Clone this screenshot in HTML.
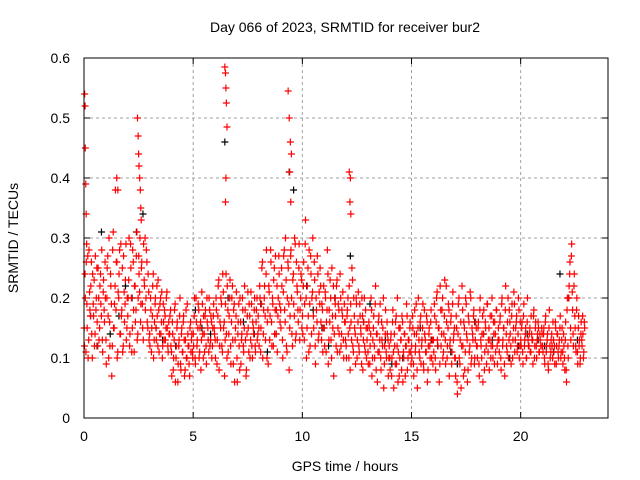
<!DOCTYPE html>
<html><head><meta charset="utf-8"><style>
html,body{margin:0;padding:0;background:#fff;width:640px;height:480px;overflow:hidden}
svg{display:block;font-family:"Liberation Sans",sans-serif}
</style></head><body>
<svg id="chart" width="640" height="480">
<text x="345" y="32" font-size="14" text-anchor="middle">Day 066 of 2023, SRMTID for receiver bur2</text>
<text x="345" y="471" font-size="14" text-anchor="middle">GPS time / hours</text>
<text transform="translate(18,238) rotate(-90)" font-size="14" text-anchor="middle">SRMTID / TECUs</text>
<g id="grid"></g>
<g id="ticks"></g>
<g id="pts"></g>
<rect x="84" y="58" width="524" height="360" fill="none" stroke="#000" stroke-width="1"/>
</svg>
<script>
const xTicks=[0,5,10,15,20];
const yTicks=[0,0.1,0.2,0.3,0.4,0.5,0.6];
const yTickLabels=["0","0.1","0.2","0.3","0.4","0.5","0.6"];
const redByHour=[
[0.12,0.2,0.26,0.15,0.1,0.28,0.18,0.22,0.14,0.24,0.17,0.12,0.27,0.2,0.16,0.25,0.13,0.22,0.19,0.28,0.11,0.23,0.16,0.2],
[0.09,0.25,0.17,0.3,0.12,0.22,0.07,0.28,0.15,0.19,0.38,0.26,0.1,0.21,0.24,0.14,0.29,0.18,0.11,0.27,0.16,0.23,0.13,0.2],
[0.2,0.3,0.14,0.25,0.11,0.28,0.18,0.22,0.16,0.27,0.13,0.2,0.24,0.3,0.19,0.26,0.15,0.29,0.22,0.18,0.28,0.16,0.24,0.13],
[0.12,0.18,0.15,0.22,0.1,0.16,0.2,0.13,0.17,0.23,0.11,0.19,0.14,0.21,0.12,0.16,0.18,0.13,0.2,0.15,0.11,0.14,0.17,0.12],
[0.07,0.14,0.1,0.18,0.06,0.12,0.16,0.09,0.13,0.2,0.08,0.15,0.11,0.17,0.07,0.13,0.1,0.19,0.12,0.09,0.15,0.11,0.14,0.1],
[0.12,0.2,0.09,0.16,0.13,0.19,0.1,0.15,0.08,0.21,0.14,0.17,0.11,0.18,0.09,0.16,0.13,0.2,0.12,0.17,0.1,0.15,0.19,0.14],
[0.1,0.18,0.13,0.22,0.08,0.16,0.2,0.12,0.24,0.15,0.07,0.19,0.14,0.22,0.11,0.17,0.23,0.09,0.2,0.13,0.18,0.06,0.15,0.21],
[0.06,0.16,0.12,0.2,0.09,0.14,0.18,0.11,0.22,0.13,0.08,0.17,0.15,0.19,0.1,0.21,0.12,0.16,0.14,0.2,0.11,0.18,0.13,0.17],
[0.12,0.2,0.15,0.25,0.1,0.18,0.22,0.13,0.28,0.16,0.09,0.21,0.17,0.26,0.12,0.19,0.23,0.14,0.27,0.18,0.11,0.2,0.24,0.16],
[0.15,0.22,0.1,0.27,0.18,0.3,0.12,0.2,0.25,0.08,0.17,0.28,0.14,0.23,0.19,0.3,0.13,0.26,0.21,0.16,0.29,0.18,0.24,0.15],
[0.14,0.26,0.19,0.33,0.1,0.22,0.17,0.28,0.12,0.24,0.2,0.3,0.15,0.23,0.09,0.18,0.27,0.13,0.21,0.25,0.16,0.19,0.11,0.22],
[0.12,0.2,0.16,0.28,0.09,0.18,0.23,0.13,0.25,0.15,0.07,0.2,0.17,0.22,0.11,0.19,0.14,0.24,0.12,0.18,0.21,0.1,0.16,0.13],
[0.1,0.18,0.14,0.22,0.08,0.16,0.25,0.12,0.2,0.15,0.09,0.19,0.13,0.21,0.11,0.17,0.14,0.2,0.08,0.16,0.12,0.18,0.1,0.15],
[0.09,0.15,0.12,0.2,0.07,0.13,0.17,0.1,0.22,0.14,0.06,0.16,0.11,0.19,0.08,0.13,0.15,0.05,0.12,0.18,0.1,0.14,0.07,0.12],
[0.08,0.14,0.1,0.18,0.05,0.12,0.16,0.09,0.2,0.11,0.07,0.15,0.13,0.17,0.06,0.1,0.14,0.12,0.19,0.08,0.13,0.11,0.16,0.09],
[0.1,0.15,0.07,0.18,0.12,0.14,0.05,0.2,0.11,0.16,0.09,0.13,0.19,0.08,0.14,0.11,0.17,0.06,0.12,0.15,0.1,0.18,0.13,0.09],
[0.11,0.17,0.08,0.2,0.13,0.15,0.06,0.22,0.12,0.18,0.1,0.14,0.23,0.09,0.16,0.12,0.19,0.07,0.13,0.17,0.11,0.21,0.14,0.1],
[0.07,0.15,0.04,0.19,0.1,0.13,0.05,0.22,0.12,0.16,0.08,0.2,0.14,0.06,0.17,0.11,0.21,0.09,0.15,0.13,0.18,0.1,0.16,0.12],
[0.1,0.16,0.07,0.2,0.12,0.14,0.06,0.18,0.11,0.15,0.09,0.19,0.13,0.08,0.17,0.12,0.2,0.1,0.14,0.16,0.11,0.18,0.09,0.15],
[0.11,0.17,0.08,0.2,0.13,0.15,0.07,0.22,0.12,0.16,0.1,0.18,0.14,0.09,0.19,0.13,0.21,0.11,0.15,0.17,0.12,0.2,0.1,0.16],
[0.12,0.16,0.09,0.19,0.13,0.15,0.1,0.2,0.12,0.14,0.11,0.17,0.13,0.09,0.18,0.12,0.16,0.1,0.14,0.15,0.11,0.13,0.12,0.14],
[0.11,0.15,0.09,0.17,0.12,0.14,0.08,0.18,0.1,0.13,0.12,0.16,0.11,0.09,0.15,0.12,0.14,0.1,0.13,0.17,0.11,0.15,0.09,0.12],
[0.08,0.16,0.06,0.2,0.1,0.22,0.26,0.13,0.29,0.18,0.12,0.24,0.15,0.11,0.2,0.09,0.17,0.13,0.1,0.16,0.12,0.14,0.11,0.15]];
const redByHour2=[
[0.15,0.24,0.11,0.19,0.27,0.13,0.21,0.17,0.26,0.1,0.19,0.23,0.14,0.18,0.25,0.12,0.2,0.15,0.24,0.17,0.13,0.21,0.18,0.26],
[0.13,0.2,0.27,0.1,0.16,0.24,0.19,0.12,0.31,0.15,0.22,0.18,0.26,0.11,0.2,0.28,0.14,0.17,0.25,0.12,0.21,0.19,0.29,0.15],
[0.17,0.23,0.12,0.29,0.2,0.15,0.26,0.11,0.22,0.18,0.31,0.14,0.27,0.21,0.16,0.25,0.19,0.13,0.23,0.3,0.2,0.26,0.15,0.21],
[0.14,0.2,0.11,0.17,0.24,0.13,0.19,0.15,0.22,0.12,0.18,0.14,0.2,0.16,0.1,0.19,0.13,0.17,0.15,0.21,0.12,0.16,0.14,0.18],
[0.11,0.16,0.08,0.13,0.19,0.1,0.15,0.06,0.12,0.17,0.09,0.14,0.11,0.16,0.13,0.08,0.18,0.1,0.14,0.12,0.07,0.16,0.13,0.11],
[0.14,0.17,0.1,0.2,0.12,0.15,0.18,0.11,0.16,0.13,0.19,0.1,0.14,0.17,0.12,0.2,0.15,0.11,0.18,0.13,0.16,0.12,0.17,0.15],
[0.13,0.2,0.09,0.17,0.23,0.12,0.15,0.19,0.11,0.21,0.16,0.13,0.24,0.1,0.18,0.14,0.2,0.12,0.16,0.22,0.09,0.19,0.13,0.17],
[0.1,0.14,0.19,0.08,0.16,0.13,0.2,0.12,0.15,0.18,0.07,0.14,0.21,0.11,0.17,0.13,0.19,0.1,0.15,0.18,0.12,0.16,0.2,0.14],
[0.15,0.22,0.11,0.19,0.26,0.14,0.2,0.17,0.24,0.1,0.18,0.22,0.13,0.28,0.16,0.2,0.12,0.25,0.18,0.14,0.22,0.17,0.27,0.19],
[0.18,0.25,0.13,0.21,0.28,0.16,0.23,0.11,0.26,0.19,0.15,0.27,0.2,0.12,0.24,0.17,0.29,0.14,0.22,0.18,0.25,0.13,0.2,0.23],
[0.17,0.22,0.13,0.29,0.2,0.15,0.25,0.11,0.19,0.27,0.14,0.21,0.17,0.26,0.12,0.2,0.16,0.24,0.14,0.19,0.22,0.13,0.18,0.15],
[0.15,0.21,0.11,0.18,0.24,0.13,0.16,0.2,0.1,0.17,0.22,0.14,0.19,0.12,0.23,0.15,0.18,0.11,0.2,0.14,0.17,0.13,0.19,0.16],
[0.12,0.17,0.2,0.1,0.15,0.19,0.13,0.23,0.11,0.17,0.14,0.2,0.1,0.16,0.12,0.19,0.15,0.09,0.17,0.13,0.2,0.11,0.15,0.13],
[0.11,0.16,0.09,0.14,0.18,0.1,0.15,0.12,0.19,0.08,0.14,0.11,0.17,0.13,0.1,0.16,0.12,0.2,0.09,0.14,0.11,0.16,0.13,0.1],
[0.1,0.13,0.07,0.16,0.11,0.14,0.09,0.17,0.12,0.06,0.15,0.1,0.13,0.08,0.16,0.11,0.14,0.07,0.12,0.17,0.1,0.13,0.15,0.11],
[0.12,0.17,0.09,0.14,0.11,0.19,0.08,0.15,0.13,0.1,0.17,0.12,0.15,0.09,0.18,0.13,0.11,0.16,0.08,0.14,0.12,0.16,0.1,0.13],
[0.13,0.19,0.1,0.16,0.21,0.12,0.15,0.09,0.18,0.14,0.2,0.11,0.17,0.13,0.22,0.1,0.15,0.18,0.12,0.16,0.09,0.19,0.13,0.15],
[0.1,0.17,0.06,0.14,0.2,0.09,0.16,0.12,0.18,0.07,0.15,0.11,0.19,0.13,0.08,0.16,0.12,0.2,0.1,0.14,0.17,0.09,0.13,0.15],
[0.12,0.15,0.09,0.18,0.13,0.1,0.17,0.14,0.08,0.16,0.12,0.19,0.11,0.15,0.13,0.1,0.17,0.12,0.16,0.09,0.14,0.18,0.12,0.13],
[0.13,0.16,0.1,0.19,0.12,0.15,0.09,0.18,0.14,0.11,0.2,0.13,0.16,0.12,0.17,0.1,0.15,0.19,0.13,0.16,0.11,0.14,0.18,0.12],
[0.13,0.15,0.11,0.17,0.12,0.14,0.1,0.16,0.13,0.12,0.15,0.11,0.14,0.13,0.17,0.1,0.15,0.12,0.13,0.16,0.11,0.14,0.12,0.15],
[0.12,0.14,0.1,0.16,0.11,0.13,0.09,0.15,0.12,0.11,0.14,0.1,0.13,0.12,0.16,0.09,0.14,0.11,0.12,0.15,0.1,0.13,0.11,0.14],
[0.1,0.13,0.08,0.18,0.12,0.2,0.24,0.15,0.27,0.21,0.14,0.22,0.17,0.12,0.18,0.11,0.15,0.12,0.09,0.14,0.13,0.17,0.1,0.16]];
const spikeT=[0.03,0.05,0.06,0.08,0.1,0.12,2.45,2.48,2.5,2.52,2.55,2.58,2.6,2.62,6.45,6.48,6.5,6.52,6.55,6.5,6.48,9.35,9.4,9.45,9.5,9.42,9.47,12.15,12.2,12.18,12.22,1.5,1.55];
const spikeV=[0.54,0.52,0.45,0.39,0.34,0.29,0.5,0.47,0.44,0.42,0.4,0.38,0.35,0.33,0.585,0.575,0.55,0.525,0.485,0.4,0.36,0.545,0.5,0.46,0.44,0.41,0.36,0.41,0.4,0.36,0.34,0.4,0.38];
const blackT=[0.3,0.8,1.2,1.9,2.4,2.7,3.3,4.2,5.1,5.8,6.45,6.6,7.3,8.1,8.8,9.4,9.6,10.2,10.9,11.5,12.2,13.1,13.8,14.6,15.4,16.2,17.1,17.9,18.7,19.5,20.3,21.1,21.8,22.2,22.6,0.6,1.6,2.2,3.6,4.7,5.4,7.8,8.4,10.5,11.2,12.8,14.1,15.9,16.8,18.3,19.9,20.8,21.5];
const blackV=[0.17,0.31,0.14,0.22,0.31,0.34,0.15,0.12,0.18,0.14,0.46,0.2,0.16,0.19,0.14,0.41,0.38,0.22,0.15,0.2,0.27,0.19,0.13,0.1,0.15,0.12,0.09,0.16,0.13,0.1,0.14,0.12,0.24,0.2,0.13,0.12,0.17,0.2,0.13,0.1,0.15,0.14,0.11,0.18,0.12,0.16,0.09,0.13,0.11,0.14,0.12,0.13,0.11];
const X=t=>84+t*524/24, Y=v=>418-v*600;
const NS='http://www.w3.org/2000/svg';
const grid=document.getElementById('grid'),ticks=document.getElementById('ticks'),pts=document.getElementById('pts');
function mk(tag,at,p){const e=document.createElementNS(NS,tag);for(const k in at)e.setAttribute(k,at[k]);p.appendChild(e);return e;}
xTicks.forEach(t=>{const x=X(t);
 if(t>0){const g=mk('line',{x1:x,x2:x,y1:58,y2:418,stroke:'#a0a0a0','stroke-dasharray':'3,3'},grid);
 
 }
 mk('line',{x1:x,x2:x,y1:418,y2:412,stroke:'#000'},ticks);mk('line',{x1:x,x2:x,y1:58,y2:64,stroke:'#000'},ticks);
 const l=mk('text',{x:x,y:441,'font-size':14,'text-anchor':'middle'},ticks);l.textContent=t;
 
 });
yTicks.forEach((v,i)=>{const y=Y(v);
 if(v>0&&v<0.6){const g=mk('line',{x1:84,x2:608,y1:y,y2:y,stroke:'#a0a0a0','stroke-dasharray':'3,3'},grid);
 
 }
 mk('line',{x1:84,x2:90,y1:y,y2:y,stroke:'#000'},ticks);mk('line',{x1:602,x2:608,y1:y,y2:y,stroke:'#000'},ticks);
 const l=mk('text',{x:70,y:y+5,'font-size':14,'text-anchor':'end'},ticks);l.textContent=yTickLabels[i];
 
 });
function plus(t,v,c,name){const x=X(t),y=Y(v);
 const p=mk('path',{d:`M${x-3.5},${y}h7M${x},${y-3.5}v7`,stroke:c,'stroke-width':1.2,fill:'none'},pts);
 
 }
blackT.forEach((t,i)=>plus(t,blackV[i],'#000','black-point'));
redByHour.forEach((arr,h)=>{const span=h===22?0.95:1;arr.forEach((v,j)=>plus(h+span*(j+0.5)/arr.length,v,'#ff0000','red-point'));});
redByHour2.forEach((arr,h)=>{const span=h===22?0.95:1;arr.forEach((v,j)=>plus(h+span*(j+0.15)/arr.length,v,'#ff0000','red-point'));});
spikeT.forEach((t,i)=>plus(t,spikeV[i],'#ff0000','red-spike-point'));
</script>
</body></html>
